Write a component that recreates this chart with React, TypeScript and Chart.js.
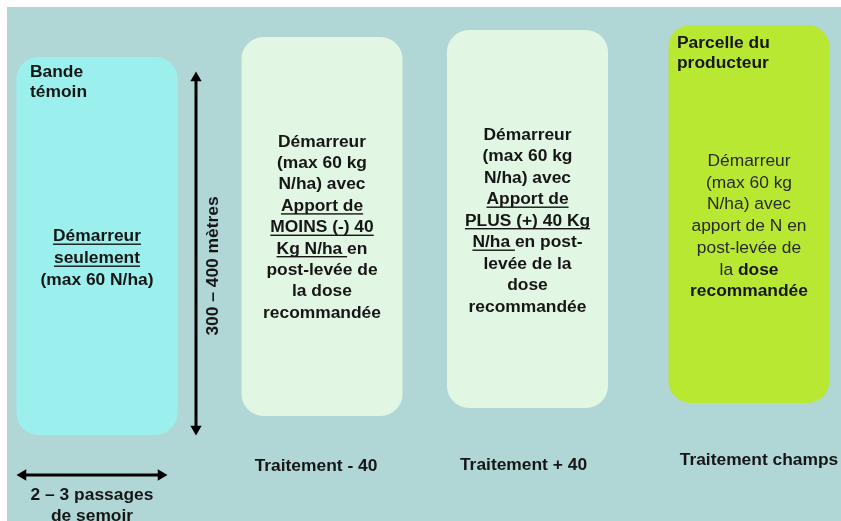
import React, { useEffect, useRef } from "react";
import { Chart, registerables } from "chart.js";

Chart.register(...registerables);

// ---------- data ----------
const boxNames = ["Bande témoin", "Traitement - 40", "Traitement + 40", "Parcelle du producteur"];
const boxCenterX = [97, 322, 527.5, 749];
const boxTop = [57, 37, 30, 25];
const boxBottom = [435, 416, 408, 403];
const boxColors = ["#9BF0EE", "#E2F6E4", "#E2F6E4", "#B8E832"];

const lengthArrowX = [196, 196];
const lengthArrowY = [78, 429];
const widthArrowX = [23, 161];
const widthArrowY = [475, 475];

type Seg = { t: string; b?: boolean; u?: boolean };

const box1Header = ["Bande", "témoin"];
const box4Header = ["Parcelle du", "producteur"];

const box1Body: Seg[][] = [
  [{ t: "Démarreur", b: true, u: true }],
  [{ t: "seulement", b: true, u: true }],
  [{ t: "(max 60 N/ha)", b: true }],
];
const box2Body: Seg[][] = [
  [{ t: "Démarreur", b: true }],
  [{ t: "(max 60 kg", b: true }],
  [{ t: "N/ha) avec", b: true }],
  [{ t: "Apport de", b: true, u: true }],
  [{ t: "MOINS (-) 40", b: true, u: true }],
  [{ t: "Kg N/ha ", b: true, u: true }, { t: "en", b: true }],
  [{ t: "post-levée de", b: true }],
  [{ t: "la dose", b: true }],
  [{ t: "recommandée", b: true }],
];
const box3Body: Seg[][] = [
  [{ t: "Démarreur", b: true }],
  [{ t: "(max 60 kg", b: true }],
  [{ t: "N/ha) avec", b: true }],
  [{ t: "Apport de", b: true, u: true }],
  [{ t: "PLUS (+) 40 Kg", b: true, u: true }],
  [{ t: "N/ha ", b: true, u: true }, { t: "en post-", b: true }],
  [{ t: "levée de la", b: true }],
  [{ t: "dose", b: true }],
  [{ t: "recommandée", b: true }],
];
const box4Body: Seg[][] = [
  [{ t: "Démarreur" }],
  [{ t: "(max 60 kg" }],
  [{ t: "N/ha) avec" }],
  [{ t: "apport de N en" }],
  [{ t: "post-levée de" }],
  [{ t: "la " }, { t: "dose", b: true }],
  [{ t: "recommandée", b: true }],
];
const boxBodies = [box1Body, box2Body, box3Body, box4Body];

const treatmentLabels = ["", "Traitement - 40", "Traitement + 40", "Traitement champs"];
const lengthLabel = "300 – 400 mètres";
const widthLabel = ["2 – 3 passages", "de semoir"];

// ---------- layout (positions in chart units) ----------
const bodyFirstY = [235, 140.5, 133.5, 160];
const bodyLineH = [22, 21.4, 21.5, 21.7];
const headerX = [30, 677];
const headerY = [71, 42];
const headerLineH = 20;
const treatmentY = [0, 465, 464, 459];
const treatmentDX = [0, -6, -4, 10];
const lengthLabelPos = { x: 212, y: 266 };
const widthLabelPos = { x: 92, y: 494, lh: 21 };

const FONT_SIZE = 17.4;
const FAMILY = '"Liberation Sans", Arial, sans-serif';
const DARK = "#161616";

function font(b?: boolean) {
  return `${b ? "bold " : ""}${FONT_SIZE}px ${FAMILY}`;
}

function drawSegs(
  ctx: CanvasRenderingContext2D,
  segs: Seg[],
  x: number,
  cy: number,
  align: "center" | "left",
  regularColor = DARK
) {
  const widths = segs.map((s) => {
    ctx.font = font(s.b);
    return ctx.measureText(s.t).width;
  });
  const total = widths.reduce((a, w) => a + w, 0);
  let cx = align === "center" ? x - total / 2 : x;
  const baseline = cy + 6;
  ctx.textBaseline = "alphabetic";
  ctx.textAlign = "left";
  segs.forEach((s, i) => {
    ctx.font = font(s.b);
    ctx.fillStyle = s.b ? DARK : regularColor;
    ctx.fillText(s.t, cx, baseline);
    if (s.u) {
      ctx.fillRect(cx, baseline + 2.5, widths[i], 1.4);
    }
    cx += widths[i];
  });
}

const textPlugin = {
  id: "diagramText",
  afterDatasetsDraw(chart: any) {
    const ctx: CanvasRenderingContext2D = chart.ctx;
    const xs = chart.scales.x;
    const ys = chart.scales.y;
    ctx.save();
    [box1Header, box4Header].forEach((lines, k) => {
      lines.forEach((t, j) => {
        drawSegs(ctx, [{ t, b: true }], xs.getPixelForValue(headerX[k]), ys.getPixelForValue(headerY[k] + j * headerLineH), "left");
      });
    });
    boxBodies.forEach((lines, i) => {
      const cx = xs.getPixelForValue(boxCenterX[i]);
      lines.forEach((segs, j) => {
        drawSegs(ctx, segs, cx, ys.getPixelForValue(bodyFirstY[i] + j * bodyLineH[i]), "center", "#2a2a2a");
      });
    });
    treatmentLabels.forEach((t, i) => {
      if (!t) return;
      const cx = xs.getPixelForValue(boxCenterX[i] + treatmentDX[i]);
      drawSegs(ctx, [{ t, b: true }], cx, ys.getPixelForValue(treatmentY[i]), "center");
    });
    ctx.save();
    ctx.translate(xs.getPixelForValue(lengthLabelPos.x), ys.getPixelForValue(lengthLabelPos.y));
    ctx.rotate(-Math.PI / 2);
    drawSegs(ctx, [{ t: lengthLabel, b: true }], 0, 0, "center");
    ctx.restore();
    widthLabel.forEach((t, j) => {
      drawSegs(ctx, [{ t, b: true }], xs.getPixelForValue(widthLabelPos.x), ys.getPixelForValue(widthLabelPos.y + j * widthLabelPos.lh), "center");
    });
    ctx.restore();
  },
};

export default function App() {
  const ref = useRef<HTMLCanvasElement | null>(null);
  useEffect(() => {
    if (!ref.current) return;
    const chart = new Chart(ref.current, {
      type: "bar",
      data: {
        datasets: [
          {
            type: "bar",
            label: "Parcelles",
            data: boxCenterX.map((x, i) => ({ x, y: [boxTop[i], boxBottom[i]] })) as any,
            backgroundColor: boxColors,
            borderWidth: 0,
            borderRadius: 22,
            borderSkipped: false,
            barThickness: 161,
            inflateAmount: 0,
            order: 2,
          } as any,
          {
            type: "line",
            label: lengthLabel,
            data: lengthArrowY.map((y, i) => ({ x: lengthArrowX[i], y })),
            borderColor: "#000",
            borderWidth: 3,
            pointStyle: "triangle",
            pointRadius: 6.5,
            pointRotation: [0, 180],
            pointBackgroundColor: "#000",
            pointBorderColor: "#000",
            pointBorderWidth: 0,
            fill: false,
            order: 1,
          } as any,
          {
            type: "line",
            label: widthLabel.join(" "),
            data: widthArrowX.map((x, i) => ({ x, y: widthArrowY[i] })),
            borderColor: "#000",
            borderWidth: 3,
            pointStyle: "triangle",
            pointRadius: 6.5,
            pointRotation: [270, 90],
            pointBackgroundColor: "#000",
            pointBorderColor: "#000",
            pointBorderWidth: 0,
            fill: false,
            order: 1,
          } as any,
        ],
      },
      options: {
        animation: false,
        responsive: false,
        devicePixelRatio: 1,
        layout: { padding: 0, autoPadding: false },
        scales: {
          x: { type: "linear", min: 7, max: 841, display: false, offset: false },
          y: { type: "linear", min: 7, max: 521, reverse: true, display: false },
        },
        plugins: {
          legend: { display: false },
          tooltip: { enabled: false },
        },
      },
      plugins: [textPlugin],
    });
    return () => chart.destroy();
  }, []);

  return (
    <div
      style={{
        position: "fixed",
        left: 7,
        top: 7,
        width: 834,
        height: 514,
        background: "#B0D6D6",
      }}
    >
      <canvas ref={ref} width={834} height={514} aria-label={boxNames.join(", ")} />
    </div>
  );
}
